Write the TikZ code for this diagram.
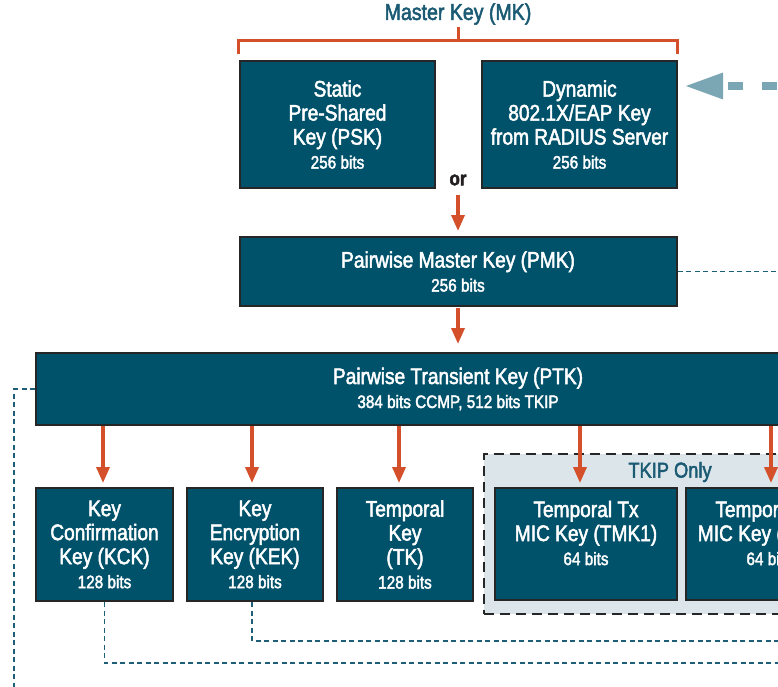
\documentclass[tikz,border=0pt]{standalone}
\usepackage{fontspec}
\setmainfont[FakeStretch=0.85,FakeBold=2.2]{Liberation Sans}
\usetikzlibrary{arrows.meta,calc}

\definecolor{boxfill}{HTML}{00516A}
\definecolor{boxline}{HTML}{262626}
\definecolor{headteal}{HTML}{1A5A73}
\definecolor{flowred}{HTML}{D4502A}
\definecolor{linkteal}{HTML}{1D5F78}
\definecolor{feedteal}{HTML}{7BA6B4}
\definecolor{tkipfill}{HTML}{DCE5EA}
\definecolor{ortext}{HTML}{231F20}

\newcommand\fsz[2]{\fontsize{#1}{#2}\selectfont}
\newcommand\bits[1]{{\fsz{18}{24}#1}}

\tikzset{
  keybox/.style={draw=boxline, line width=2pt, fill=boxfill, text=white,
    align=center, inner sep=0pt, font=\fsz{22.5}{24}},
  keytext/.style={text=white, align=center, inner sep=0pt, font=\fsz{22.5}{24}},
  flow/.style={draw=flowred, line width=3.5pt,
    -{Triangle[length=16pt,width=13pt]}},
  bracket/.style={draw=flowred, line width=3pt},
  link/.style={draw=linkteal, line width=1.8pt, dash pattern=on 5pt off 3.5pt},
  feedback/.style={draw=feedteal, line width=8.5pt, dash pattern=on 15pt off 19pt,
    -{Triangle[length=39pt,width=24pt]}},
  tkipzone/.style={draw=boxline, line width=2.5pt, fill=tkipfill,
    dash pattern=on 10pt off 6pt},
}

\begin{document}
\begin{tikzpicture}[x=1pt,y=-1pt]
\useasboundingbox (0,0) rectangle (778,687);
\clip (0,0) rectangle (778,687);

% master key heading and bracket
\node[text=headteal, font=\fsz{23}{24}, inner sep=0pt] (mk) at (458,14) {Master Key (MK)};
\coordinate (brmid) at (458,41);
\coordinate (brleft) at (238,54);
\coordinate (brright) at (677,54);
\draw[bracket] (brleft) |- (brmid) -| (brright);
\draw[bracket] (brmid) -- (458,27);

% the two kinds of master key
\node[keybox, minimum width=195pt, minimum height=127pt] (psk) at (337.5,124.5)
  {Static\\Pre-Shared\\Key (PSK)\\\bits{256 bits}};
\node[keybox, minimum width=195pt, minimum height=127pt] (eap) at (579.5,124.5)
  {Dynamic\\802.1X/EAP Key\\from RADIUS Server\\\bits{256 bits}};
\node[text=ortext, font=\bfseries\fsz{20}{24}, inner sep=0pt] (or) at (458,180) {or};

% incoming key from the authentication server
\coordinate (feedsrc) at (811,86);
\draw[feedback, shorten >=6pt] (feedsrc) -- (eap.east |- feedsrc);

% pairwise master key
\node[keybox, minimum width=437pt, minimum height=69pt] (pmk) at (458,271.5)
  {Pairwise Master Key (PMK)\\\bits{256 bits}};
\draw[flow, shorten <=9pt, shorten >=5pt] (or.south) -- (pmk.north);

% pairwise transient key
\node[keybox, minimum width=844pt, minimum height=72pt] (ptk) at (458,389)
  {Pairwise Transient Key (PTK)\\\bits{384 bits CCMP, 512 bits TKIP}};
\draw[flow, shorten <=1pt, shorten >=8pt] (pmk.south) -- (ptk.north);

% TKIP-only area
\node[tkipzone, minimum width=386pt, minimum height=160pt, inner sep=0pt] (tkip) at (677,534) {};
\node[text=headteal, font=\fsz{21.5}{24}, inner sep=0pt] (tkiplabel) at (670,472) {TKIP Only};

% derived keys
\node[keybox, minimum width=137pt, minimum height=113pt] (kck) at (104.5,544.5)
  {Key\\Confirmation\\Key (KCK)\\\bits{128 bits}};
\node[keybox, minimum width=136pt, minimum height=113pt] (kek) at (255,544.5)
  {Key\\Encryption\\Key (KEK)\\\bits{128 bits}};
\node[keybox, minimum width=136pt, minimum height=113pt] (tk) at (405,544.5)
  {Temporal\\Key\\(TK)\\\bits{128 bits}};
\node[keybox, minimum width=182pt, minimum height=112pt] (tmka) at (586,544) {};
\node[keytext] (tmkatext) at (586,533) {Temporal Tx\\MIC Key (TMK1)\\\bits{64 bits}};
\node[keybox, minimum width=170pt, minimum height=112pt] (tmkb) at (771,544) {};
\node[keytext] (tmkbtext) at (769,533) {Temporal Rx\\MIC Key (TMK2)\\\bits{64 bits}};

% PTK split
\draw[flow, shorten >=4pt] ([xshift=-1.5pt]ptk.south -| kck.north) -- ([xshift=-1.5pt]kck.north);
\draw[flow, shorten >=4pt] ([xshift=-3pt]ptk.south -| kek.north) -- ([xshift=-3pt]kek.north);
\draw[flow, shorten >=4pt] ([xshift=-6pt]ptk.south -| tk.north) -- ([xshift=-6pt]tk.north);
\draw[flow, shorten >=4pt] ([xshift=-6pt]ptk.south -| tmka.north) -- ([xshift=-6pt]tmka.north);
\draw[flow, shorten >=4pt] (ptk.south -| tmkb.north) -- (tmkb.north);

% dashed links running off to the right and down
\coordinate (pmkout) at (790,271.5);
\coordinate (ptkdown) at (14,700);
\coordinate (kekout) at (790,641);
\coordinate (kckout) at (790,663);
\draw[link] (pmk.east) -- (pmkout);
\draw[link] (ptk.west) -| (ptkdown);
\draw[link] ([xshift=-3pt]kek.south) |- (kekout);
\draw[link] (kck.south) |- (kckout);
\end{tikzpicture}
\end{document}
